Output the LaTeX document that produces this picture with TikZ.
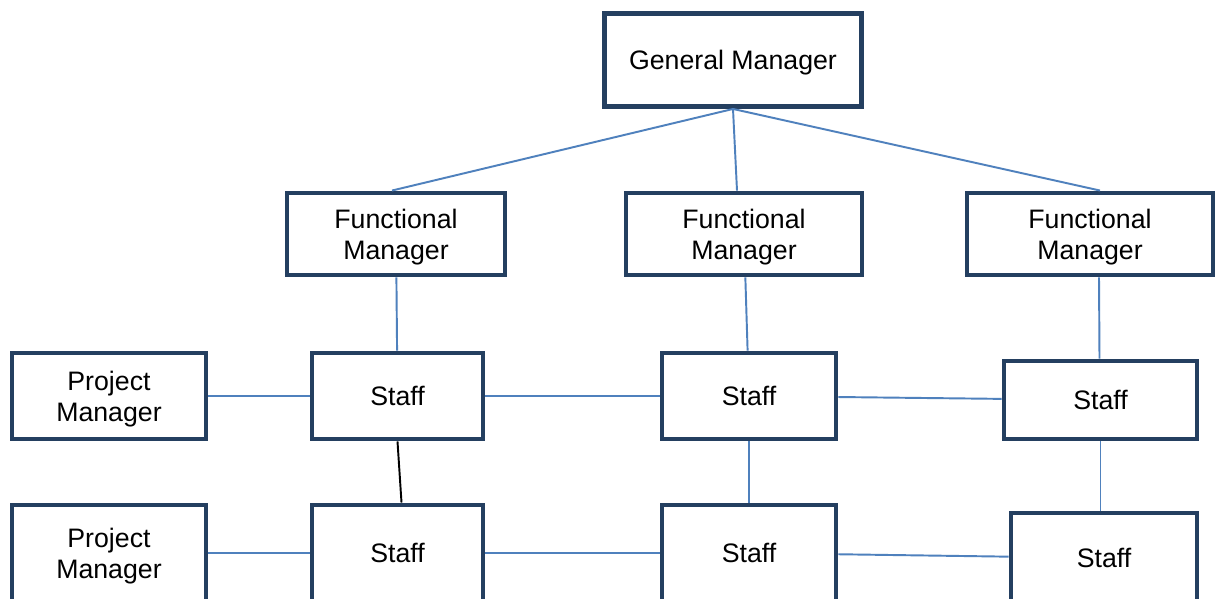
\documentclass[tikz,border=0pt]{standalone}
\usepackage{fontspec}
\setmainfont{Liberation Sans}
\usepackage{tikz}
\usetikzlibrary{positioning}

\definecolor{boxnavy}{HTML}{243F60}
\definecolor{linkblue}{HTML}{4F81BD}

\begin{document}
\begin{tikzpicture} [on grid,
    box/.style={rectangle, draw=boxnavy, line width=2.8pt, fill=white, align=center, inner sep=0pt,
                font=\fontsize{15.2}{17.5}\selectfont, text depth=0pt, minimum height=1.72cm},
    link/.style={draw=linkblue, line width=1.1pt}]
\clip (0,0) rectangle (24.3,-11.98);
\fill [white] (0,0) rectangle (24.3,-11.98);
\node (gm) [box, minimum width=5.14cm, minimum height=1.86cm] at (14.66,-1.2) {General Manager};
\node (fm1) [box, minimum width=4.36cm, minimum height=1.64cm] at (7.92,-4.68) {Functional\\ Manager};
\node (fm2) [box, minimum width=4.72cm, minimum height=1.64cm] at (14.88,-4.68) {Functional\\ Manager};
\node (fm3) [box, minimum width=4.92cm, minimum height=1.64cm] at (21.8,-4.68) {Functional\\ Manager};
\node (pm1) [box, minimum width=3.88cm] at (2.18,-7.92) {Project\\ Manager};
\node (s1a) [box, minimum width=3.42cm, right = 5.77cm of pm1] {Staff};
\node (s2a) [box, minimum width=3.48cm, right = 7.03cm of s1a] {Staff};
\node (s3a) [box, minimum width=3.86cm, minimum height=1.56cm] at (22.01,-8.0) {Staff};
\node (pm2) [box, minimum width=3.88cm, minimum height=1.92cm] at (2.18,-11.06) {Project\\ Manager};
\node (s1b) [box, minimum width=3.42cm, minimum height=1.92cm, right = 5.77cm of pm2] {Staff};
\node (s2b) [box, minimum width=3.48cm, minimum height=1.92cm, right = 7.03cm of s1b] {Staff};
\node (s3b) [box, minimum width=3.72cm, minimum height=1.8cm] at (22.08,-11.16) {Staff};
\path [link]
    (gm.south) edge ([xshift=-0.08cm]fm1.north)
    (gm.south) edge ([xshift=-0.14cm]fm2.north)
    (gm.south) edge ([xshift=0.2cm]fm3.north)
    (fm1) edge (s1a)
    (fm2) edge (s2a)
    ([xshift=0.18cm]fm3.south) edge ([xshift=-0.02cm]s3a.north)
    (pm1) edge (s1a)
    (s1a) edge (s2a)
    (s2a) edge (s3a)
    (s2a) edge (s2b)
    (s3a.south) edge ([xshift=-0.07cm]s3b.north)
    (pm2) edge (s1b)
    (s1b) edge (s2b)
    (s2b) edge (s3b);
\draw [black, line width=1.1pt] (s1a.south) -- ([xshift=0.08cm]s1b.north);
\end{tikzpicture}
\end{document}
